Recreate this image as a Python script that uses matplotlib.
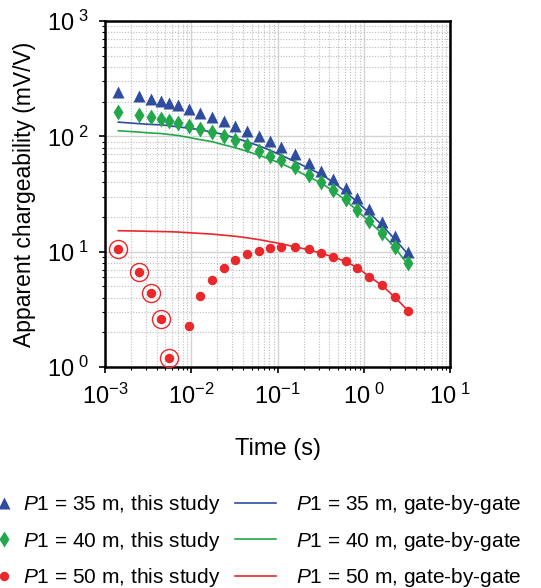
import numpy as np
import matplotlib
matplotlib.use('Agg')
import matplotlib.pyplot as plt
from matplotlib.lines import Line2D
from matplotlib.ticker import LogLocator, FixedLocator, FixedFormatter, NullFormatter

plt.rcParams['font.family'] = ['Liberation Sans', 'DejaVu Sans']
plt.rcParams['mathtext.fontset'] = 'custom'
plt.rcParams['mathtext.rm'] = 'Liberation Sans'
plt.rcParams['mathtext.it'] = 'Liberation Sans:italic'

# gate centre times (s)
gate_times = [1.43e-3, 2.48e-3, 3.41e-3, 4.42e-3, 5.52e-3, 6.96e-3, 9.33e-3,
              1.28e-2, 1.75e-2, 2.37e-2, 3.23e-2, 4.41e-2, 6.18e-2, 8.22e-2,
              0.111, 0.160, 0.229, 0.318, 0.443, 0.614, 0.837, 1.15, 1.62,
              2.27, 3.22]

# apparent chargeability (mV/V), this study
ma_35 = [241, 224, 210, 201, 194, 186, 173, 159, 146, 135, 123, 111, 101,
         90.6, 80.4, 70.0, 58.8, 50.4, 42.7, 35.5, 29.0, 23.3, 18.2, 13.7, 9.9]
ma_40 = [164, 153, 146, 141, 137, 132, 124, 116, 109, 100, 93, 83.7, 75,
         68, 62, 54.6, 46.4, 40.5, 34.3, 28.5, 23.0, 18.6, 14.6, 11.0, 8.0]
ma_50 = [10.5, 6.71, 4.36, 2.59, 1.20, np.nan, 2.27, 4.13, 5.69, 7.18, 8.47,
         9.55, 10.2, 10.7, 11.0, 10.9, 10.5, 9.8, 9.05, 8.25, 7.25, 6.07, 5.1,
         4.05, 3.08]
# early gates with flagged (circled) values for P1 = 50 m
flagged_50 = [True] * 5 + [False] * 20

# gate-by-gate inversion responses
gbg_35 = [133, 129, 127, 126, 124, 121, 118, 114, 109, 104, 97, 90, 82.5,
          75.7, 68.5, 60.4, 52.9, 47, 40, 33, 27, 21.8, 17.0, 12.9, 9.6]
gbg_40 = [112, 109, 107, 106, 104, 102, 98, 93.6, 90, 84.7, 79.8, 74.3, 68.5,
          63.3, 58, 51.2, 44.7, 39.5, 33.5, 28, 22.7, 18.3, 14.4, 10.9, 7.8]
gbg_50 = [15.2, 15.1, 15.0, 14.95, 14.9, 14.8, 14.6, 14.4, 14.2, 13.9, 13.6,
          13.2, 12.7, 12.2, 11.7, 11.0, 10.4, 9.7, 9.0, 8.2, 7.3, 6.1, 5.1,
          4.05, 3.1]

blue = '#2f4c9f'
green = '#22a84a'
red = '#e8282b'

t = np.array(gate_times)
flag = np.array(flagged_50)
m50 = np.array(ma_50)

fig = plt.figure(figsize=(5.41, 5.88), dpi=100)
ax = fig.add_axes([0.194, 0.376, 0.638, 0.588])

ax.plot(t, gbg_35, color=blue, lw=1.2, zorder=3)
ax.plot(t, gbg_40, color=green, lw=1.2, zorder=3)
ax.plot(t, gbg_50, color=red, lw=1.2, zorder=3)

ax.plot(t, ma_35, ls='none', marker='^', ms=8, color=blue, mec='none', zorder=4)
ax.plot(t, ma_40, ls='none', marker='d', ms=8, color=green, mec='none', zorder=4)
ax.plot(t, m50, ls='none', marker='o', ms=6.8, color=red, mec='none', zorder=4)
ax.plot(t[flag], m50[flag], ls='none', marker='o', ms=13, mfc='none',
        mec=red, mew=1.0, zorder=4)

ax.set_xscale('log')
ax.set_yscale('log')
ax.set_xlim(1e-3, 1e1)
ax.set_ylim(1e0, 1e3)

xt = [1e-3, 1e-2, 1e-1, 1e0, 1e1]
xl = [r'$\mathregular{10^{-3}}$', r'$\mathregular{10^{-2}}$', r'$\mathregular{10^{-1}}$',
      r'$\mathregular{10^{\ 0}}$', r'$\mathregular{10^{\ 1}}$']
yt = [1e0, 1e1, 1e2, 1e3]
yl = [r'$\mathregular{10^{\ 0}}$', r'$\mathregular{10^{\ 1}}$', r'$\mathregular{10^{\ 2}}$',
      r'$\mathregular{10^{\ 3}}$']
ax.xaxis.set_major_locator(FixedLocator(xt))
ax.xaxis.set_major_formatter(FixedFormatter(xl))
ax.yaxis.set_major_locator(FixedLocator(yt))
ax.yaxis.set_major_formatter(FixedFormatter(yl))
ax.xaxis.set_minor_locator(LogLocator(base=10, subs=np.arange(2, 10), numticks=20))
ax.yaxis.set_minor_locator(LogLocator(base=10, subs=np.arange(2, 10), numticks=20))
ax.xaxis.set_minor_formatter(NullFormatter())
ax.yaxis.set_minor_formatter(NullFormatter())

ax.grid(True, which='major', color='#d4d4d4', lw=1.0, ls='-')
ax.grid(True, which='minor', color='#bdbdbd', lw=0.8, ls=(0, (1, 1.5)))
ax.set_axisbelow(True)

for s in ax.spines.values():
    s.set_linewidth(1.8)
ax.tick_params(which='major', direction='out', length=4, width=1.2,
               labelsize=17, pad=8)
ax.tick_params(which='minor', direction='out', length=2, width=0.8)

ax.set_xlabel('Time (s)', fontsize=17, labelpad=21)
ax.set_ylabel('Apparent chargeability (mV/V)', fontsize=16.5, labelpad=8)

# legend: markers in one column, gate-by-gate curves in another
h_pts = [Line2D([], [], ls='none', marker='^', ms=8, color=blue, mec='none'),
         Line2D([], [], ls='none', marker='d', ms=8, color=green, mec='none'),
         Line2D([], [], ls='none', marker='o', ms=6.8, color=red, mec='none')]
l_pts = [r'$\mathit{P}$1 = 35 m, this study',
         r'$\mathit{P}$1 = 40 m, this study',
         r'$\mathit{P}$1 = 50 m, this study']
h_lin = [Line2D([], [], color=blue, lw=1.2),
         Line2D([], [], color=green, lw=1.2),
         Line2D([], [], color=red, lw=1.2)]
l_lin = [r'$\mathit{P}$1 = 35 m, gate-by-gate',
         r'$\mathit{P}$1 = 40 m, gate-by-gate',
         r'$\mathit{P}$1 = 50 m, gate-by-gate']

fig.legend(h_pts, l_pts, loc='upper left', bbox_to_anchor=(-0.0115, 0.161),
           frameon=False, fontsize=15, handlelength=0.95, handletextpad=0.45,
           labelspacing=0.64, borderpad=0, borderaxespad=0)
fig.legend(h_lin, l_lin, loc='upper left', bbox_to_anchor=(0.434, 0.161),
           frameon=False, fontsize=15, handlelength=2.0, handletextpad=0.95,
           labelspacing=0.64, borderpad=0, borderaxespad=0)

fig.savefig('out.png', dpi=100)
